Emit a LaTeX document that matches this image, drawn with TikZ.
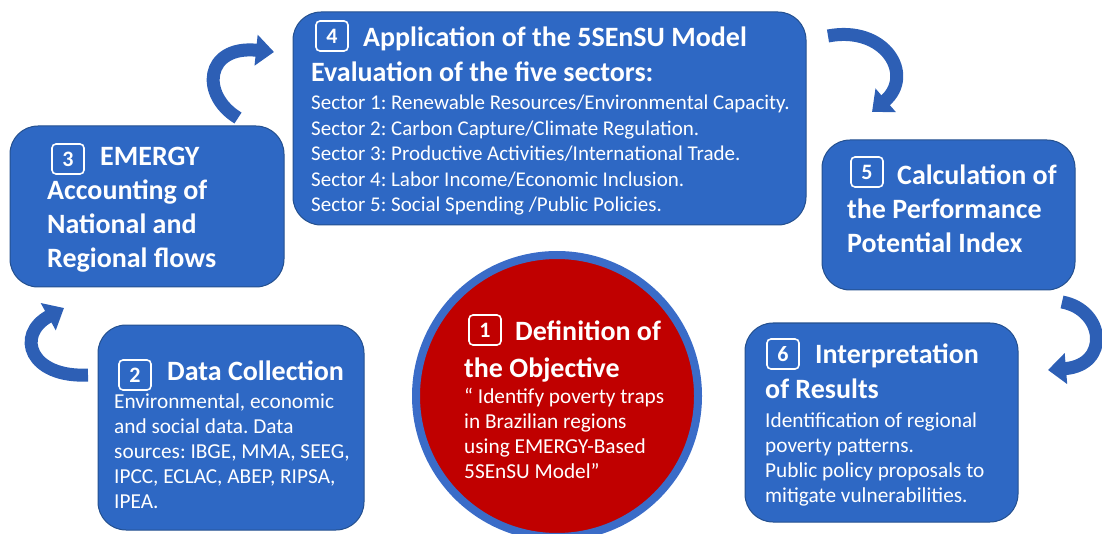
\documentclass[tikz,border=0pt]{standalone}
\usepackage{fontspec}
\setmainfont{Carlito}
\usetikzlibrary{arrows.meta}
\frenchspacing
\definecolor{boxblue}{HTML}{2E68C4}
\definecolor{boxedge}{HTML}{24508F}
\definecolor{objred}{HTML}{C00000}
\definecolor{ringblue}{HTML}{3A6CC8}
\definecolor{arrowblue}{HTML}{2D5FB5}
\tikzset{
  stepbox/.style={draw=boxedge, line width=1pt, fill=boxblue, rounded corners=28pt, inner sep=0pt},
  numbox/.style={draw=white, line width=1.6pt, rounded corners=4pt, minimum width=32pt, minimum height=30pt, inner sep=0pt, text=white, font=\fontsize{22}{24}\selectfont\bfseries},
  ttl/.style={anchor=base west, inner sep=0pt, text=white, align=left, font=\fontsize{28}{33.7}\selectfont\bfseries},
  body/.style={anchor=base west, inner sep=0pt, text=white, align=left, font=\fontsize{21.3}{25}\selectfont},
  sectors/.style={anchor=base west, inner sep=0pt, text=white, align=left, font=\fontsize{21}{25.5}\selectfont},
  curvearrow/.style={draw=arrowblue, line width=13pt, line cap=butt, -{Triangle[width=30pt,length=18pt]}}
}
\begin{document}
\begin{tikzpicture}[x=1pt,y=-1pt]
\useasboundingbox (0,0) rectangle (1102,534);
% boxes
\node[stepbox, minimum width=274pt, minimum height=161pt] (b3) at (147,206.5) {};
\node[stepbox, minimum width=513pt, minimum height=213pt] (b4) at (549.5,118.5) {};
\node[stepbox, minimum width=253pt, minimum height=150pt] (b5) at (948.5,215) {};
\node[stepbox, minimum width=266pt, minimum height=205pt] (b2) at (231,427.5) {};
\node[stepbox, minimum width=273pt, minimum height=199pt] (b6) at (881.5,422.5) {};
\node[circle, draw=ringblue, line width=8pt, fill=objred, minimum size=282pt, inner sep=0pt] (b1) at (557,396) {};
% badges
\node[numbox] (n4) at (332,36) {4};
\node[numbox] (n3) at (68,159) {3};
\node[numbox] (n5) at (867,172) {5};
\node[numbox] (n2) at (135,375) {2};
\node[numbox] (n1) at (485,330) {1};
\node[numbox] (n6) at (783,354) {6};
% box 4 (multi-line nodes: base anchor = baseline of last line)
\node[ttl] (t4a) at (363,47) {Application of the 5SEnSU Model};
\node[ttl] (t4b) at (311,82) {Evaluation of the five sectors:};
\node[sectors] (t4c) at (311,212) {Sector 1: Renewable Resources/Environmental Capacity.\\
Sector 2: Carbon Capture/Climate Regulation.\\
Sector 3: Productive Activities/International Trade.\\
Sector 4: Labor Income/Economic Inclusion.\\
Sector 5: Social Spending /Public Policies.};
% box 3
\node[ttl] (t3a) at (100,166) {EMERGY};
\node[ttl] (t3b) at (47,267.4) {Accounting of\\National and\\Regional flows};
% box 5
\node[ttl] (t5a) at (897,185) {Calculation of};
\node[ttl] (t5b) at (847,252.7) {the Performance\\Potential Index};
% box 2
\node[ttl] (t2a) at (167,380) {Data Collection};
\node[body] (t2b) at (114,508) {Environmental, economic\\and social data. Data\\sources: IBGE, MMA, SEEG,\\IPCC, ECLAC, ABEP, RIPSA,\\IPEA.};
% circle
\node[ttl] (t1a) at (515,340) {Definition of};
\node[ttl] (t1b) at (464,377) {the Objective};
\node[body] (t1c) at (464,478) {“ Identify poverty traps\\in Brazilian regions\\using EMERGY-Based\\5SEnSU Model”};
% box 6
\node[ttl] (t6a) at (815,363) {Interpretation};
\node[ttl] (t6b) at (765,398) {of Results};
\node[body] (t6c) at (765,502) {Identification of regional\\poverty patterns.\\Public policy proposals to\\mitigate vulnerabilities.};
% arrows
\coordinate (a34s) at (238,118);
\coordinate (a34e) at (274,52);
\coordinate (a45s) at (828,36);
\coordinate (a45e) at (872,112);
\coordinate (a56s) at (1062,302);
\coordinate (a56e) at (1048,370);
\coordinate (a23s) at (88,375);
\coordinate (a23e) at (64,308);
\draw[curvearrow] (a34s) .. controls (200,95) and (205,45) .. (a34e);
\draw[curvearrow] (a45s) .. controls (885,25) and (915,75) .. (a45e);
\draw[curvearrow] (a56s) .. controls (1105,310) and (1110,365) .. (a56e);
\draw[curvearrow] (a23s) .. controls (30,378) and (15,335) .. (a23e);
\end{tikzpicture}
\end{document}
